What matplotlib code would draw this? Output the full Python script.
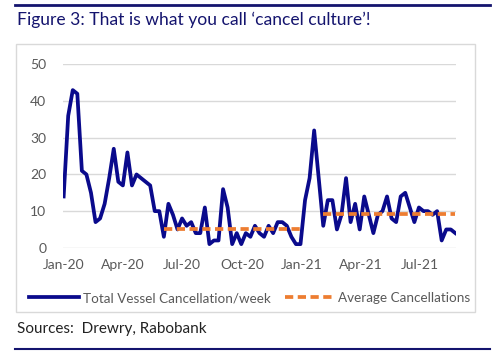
import matplotlib
matplotlib.use("Agg")
import matplotlib.pyplot as plt
import matplotlib.dates as mdates
from matplotlib.patches import Rectangle
from matplotlib.lines import Line2D
import numpy as np
import pandas as pd

# weekly vessel cancellations, Jan 2020 - Aug 2021
weekly_cancellations = [
    14, 36, 43, 42, 21, 20, 15, 7, 8, 12,
    19, 27, 18, 17, 26, 17, 20, 19, 18, 17,
    10, 10, 3, 12, 9, 5, 8, 6, 7, 4,
    4, 11, 1, 2, 2, 16, 11, 1, 4, 1,
    4, 3, 6, 4, 3, 6, 4, 7, 7, 6,
    3, 1, 1, 13, 19, 32, 19, 6, 13, 13,
    5, 9, 19, 7, 12, 5, 14, 9, 4, 9,
    10, 14, 8, 7, 14, 15, 11, 7, 11, 10,
    10, 9, 10, 2, 5, 5, 4,
]
# average cancellations per period (start week, end week, value)
avg_periods = [(22, 52, 5.2), (57, 86, 9.2)]

dates = pd.date_range("2020-01-01", periods=len(weekly_cancellations), freq="7D")
avg_series = np.full(len(weekly_cancellations), np.nan)
for start, end, val in avg_periods:
    avg_series[start:end + 1] = val

navy = "#0a0a8c"
orange = "#ed7d31"
grey_text = "#595959"
plt.rcParams["font.family"] = ["Lato", "DejaVu Sans"]

fig = plt.figure(figsize=(5.0, 3.54), dpi=100)
ax = fig.add_axes([0.126, 0.300, 0.786, 0.518])

ax.plot(dates, weekly_cancellations, color=navy, lw=2.7, solid_joinstyle="round",
        label="Total Vessel Cancellation/week", zorder=3)
ax.plot(dates, avg_series, color=orange, lw=2.7, ls=(0, (2.2, 1.2)),
        label="Average Cancellations", zorder=4)

ax.set_ylim(0, 50)
ax.set_yticks(range(0, 51, 10))
ax.set_xlim(dates[0] - pd.Timedelta(days=1), dates[-1] + pd.Timedelta(days=1))
ax.xaxis.set_major_locator(mdates.MonthLocator(bymonth=[1, 4, 7, 10]))
ax.xaxis.set_major_formatter(mdates.DateFormatter("%b-%y"))
ax.grid(axis="y", color="#d9d9d9", lw=1)
ax.set_axisbelow(True)
for s in ax.spines.values():
    s.set_visible(False)
ax.tick_params(length=0, labelsize=10, colors=grey_text, pad=8)
ax.tick_params(axis="y", pad=12)

fig.legend(loc="center", bbox_to_anchor=(0.5, 0.158), ncol=2, frameon=False,
           fontsize=9.7, handlelength=3.7, columnspacing=1.1, handletextpad=0.25,
           labelcolor=grey_text)

# chart frame and decorations
fig.patches.append(Rectangle((0.032, 0.1186), 0.918, 0.757, transform=fig.transFigure,
                             fill=False, edgecolor="#d9d9d9", lw=1))
fig.lines.append(Line2D([0.03, 0.98], [0.986, 0.986], transform=fig.transFigure,
                        color="#14146e", lw=2))
fig.lines.append(Line2D([0.03, 0.98], [0.014, 0.014], transform=fig.transFigure,
                        color="#14146e", lw=1.5))
fig.text(0.034, 0.943, "Figure 3: That is what you call \u2018cancel culture\u2019!",
         fontsize=12.6, color="#14146e", va="center", ha="left")
fig.text(0.034, 0.071, "Sources:  Drewry, Rabobank", fontsize=11, color="#222222",
         va="center", ha="left")

fig.savefig("out.png", dpi=100)
